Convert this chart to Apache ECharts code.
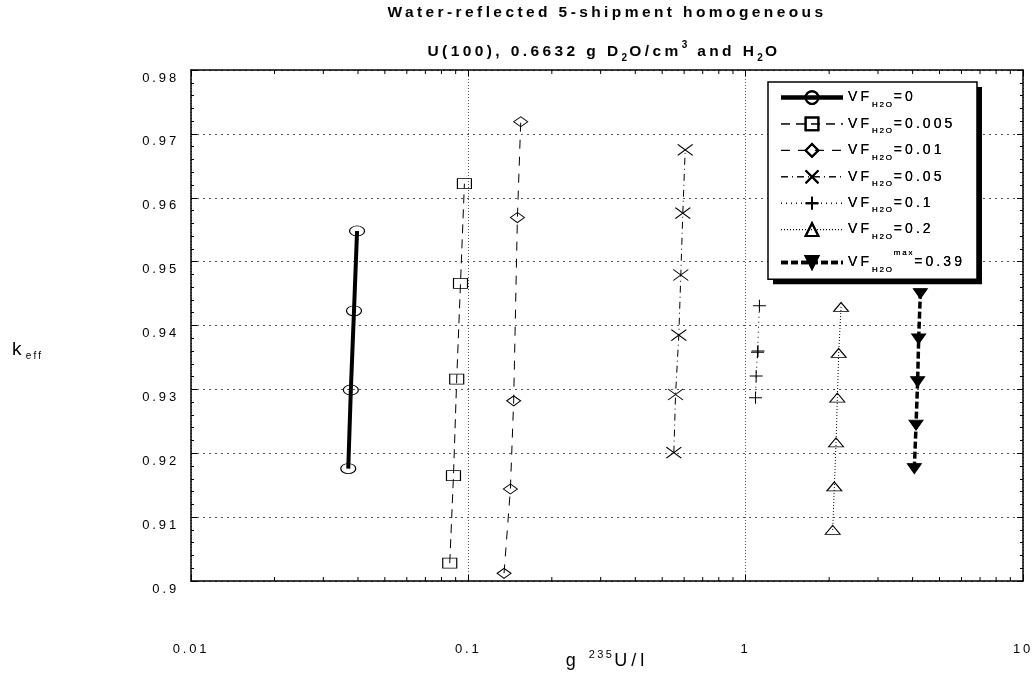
<!DOCTYPE html>
<html><head><meta charset="utf-8">
<script src="https://cdn.jsdelivr.net/npm/echarts@6/dist/echarts.min.js"></script>
<style>html,body{margin:0;padding:0;background:#fff}#chart{width:1034px;height:675px}</style>
</head><body><div id="chart"></div>
<script>
// Wide letter spacing, as in the reference (proportional to font size)
(function(){
  var proto = window.CanvasRenderingContext2D && CanvasRenderingContext2D.prototype;
  if (!proto) return;
  var d = Object.getOwnPropertyDescriptor(proto, 'font');
  if (d && d.set && ('letterSpacing' in proto)) {
    Object.defineProperty(proto, 'font', {
      configurable: true, enumerable: d.enumerable,
      get: function(){ return d.get.call(this); },
      set: function(v){ d.set.call(this, v); var m = /(\d+(?:\.\d+)?)px/.exec(v); if (m) { this.letterSpacing = (parseFloat(m[1]) * 0.22).toFixed(2) + 'px'; } }
    });
  }
})();

// ---------------- DATA ----------------
const vfValues = ['0', '0.005', '0.01', '0.05', '0.1', '0.2', '0.39'];

const xVF0 = [0.0369, 0.0377, 0.0387, 0.0397];
const yVF0 = [0.9176, 0.9299, 0.9423, 0.9548];

const xVF0005 = [0.0857, 0.0884, 0.0908, 0.0937, 0.0968];
const yVF0005 = [0.9028, 0.9165, 0.9316, 0.9466, 0.9622];

const xVF001 = [0.1345, 0.1418, 0.1457, 0.1503, 0.1545];
const yVF001 = [0.9012, 0.9144, 0.9282, 0.9569, 0.9719];

const xVF005 = [0.5508, 0.5587, 0.5741, 0.5836, 0.5934, 0.6053];
const yVF005 = [0.9201, 0.9292, 0.9385, 0.9479, 0.9576, 0.9675];

const xVF01 = [1.085, 1.091, 1.103, 1.108, 1.121];
const yVF01 = [0.9287, 0.9321, 0.9358, 0.9360, 0.9431];

const xVF02 = [2.060, 2.088, 2.118, 2.141, 2.165, 2.208];
const yVF02 = [0.9080, 0.9148, 0.9217, 0.9287, 0.9357, 0.9429];

const xVFmax = [4.057, 4.114, 4.169, 4.205, 4.264];
const yVFmax = [0.9176, 0.9244, 0.9312, 0.9379, 0.9450];

const xTickValues = [0.01, 0.1, 1, 10];
const xMinorTicks = [0.02,0.03,0.04,0.05,0.06,0.07,0.08,0.09,0.2,0.3,0.4,0.5,0.6,0.7,0.8,0.9,2,3,4,5,6,7,8,9];
const yMin = 0.9, yMax = 0.98, yStep = 0.01;

const titleLine1 = 'Water-reflected 5-shipment homogeneous';
const titleLine2 = 'U(100), 0.6632 g D{s|2}O/cm{p|3} and H{s|2}O';
const xName = 'g {p|235}U/l';
const yName = 'k{s|eff}';

// ---------------- CHART ----------------
const FF = '"Liberation Sans", Arial, sans-serif';
const seriesNames = vfValues.map((v, i) => i === 6 ? 'VF_H2O^max=' + v : 'VF_H2O=' + v);
const zip = (xs, ys) => xs.map((x, i) => [x, ys[i]]);
const hollow = 'rgba(0,0,0,0)';

function lineSeries(idx, xs, ys, opt) {
  return Object.assign({
    name: seriesNames[idx], type: 'line', data: zip(xs, ys),
    xAxisIndex: 0, yAxisIndex: 0, showAllSymbol: true, z: 3,
    itemStyle: { color: hollow, borderColor: '#000', borderWidth: 1 },
  }, opt);
}

const series = [
  lineSeries(0, xVF0, yVF0, { symbol: 'circle', symbolSize: [15, 10], lineStyle: { color: '#000', width: 4, type: 'solid' } }),
  lineSeries(1, xVF0005, yVF0005, { symbol: 'rect', symbolSize: [14, 10], lineStyle: { color: '#000', width: 1, type: [9, 6] } }),
  lineSeries(2, xVF001, yVF001, { symbol: 'diamond', symbolSize: [14, 10], lineStyle: { color: '#000', width: 1, type: [9, 8] } }),
  lineSeries(3, xVF005, yVF005, { symbol: 'path://M0,0L10,10M0,10L10,0', symbolSize: [15, 11], lineStyle: { color: '#000', width: 1, type: [7, 4, 1, 4] } }),
  lineSeries(4, xVF01, yVF01, { symbol: 'path://M5,0L5,10M0,5L10,5', symbolSize: [13, 12], lineStyle: { color: '#000', width: 1, type: [1, 4] } }),
  lineSeries(5, xVF02, yVF02, { symbol: 'triangle', symbolSize: [15, 9], lineStyle: { color: '#000', width: 1, type: [1, 2] } }),
  lineSeries(6, xVFmax, yVFmax, { symbol: 'triangle', symbolRotate: 180, symbolSize: [14, 10], itemStyle: { color: '#000', borderColor: '#000', borderWidth: 1 }, lineStyle: { color: '#000', width: 3.5, type: [7, 3] } }),
  {
    name: 'minorTicks', type: 'custom', xAxisIndex: 0, yAxisIndex: 0, silent: true, z: 5,
    data: xMinorTicks.map(v => [v, yMin]),
    renderItem: function (params, api) {
      const v = api.value(0);
      const pb = api.coord([v, yMin]);
      const pt = api.coord([v, yMax]);
      const st = { stroke: '#000', lineWidth: 1 };
      return { type: 'group', children: [
        { type: 'line', shape: { x1: pb[0], y1: pb[1], x2: pb[0], y2: pb[1] - 4 }, style: st },
        { type: 'line', shape: { x1: pt[0], y1: pt[1], x2: pt[0], y2: pt[1] + 4 }, style: st }
      ] };
    }
  }
];

const axisLineStyle = { show: true, lineStyle: { color: '#000', width: 1.5 } };

function legendCfg(withShadow) {
  const cfg = {
    data: seriesNames, orient: 'vertical', left: 768, top: 82,
    padding: [7, 12, 5, 11], itemGap: 6, itemWidth: 62, itemHeight: 16,
    selectedMode: false,
    lineStyle: { width: 'inherit' },
    textStyle: {
      color: '#000', fontFamily: FF, fontSize: 14,
      rich: {
        m: { fontSize: 14, fontFamily: FF, color: '#000' },
        s: { fontSize: 8, fontFamily: FF, color: '#000', padding: [14, 0, 0, 0] },
        p: { fontSize: 8, fontFamily: FF, color: '#000', padding: [0, 0, 20, 0] }
      }
    },
    formatter: function (name) {
      const i = seriesNames.indexOf(name);
      return i === 6 ? '{m|VF}{s|H2O}{p|max}{m|=' + vfValues[i] + '}' : '{m|VF}{s|H2O}{m|=' + vfValues[i] + '}';
    }
  };
  if (withShadow) {
    Object.assign(cfg, { z: 4, backgroundColor: '#fff', borderWidth: 0, shadowColor: '#000', shadowOffsetX: 5, shadowOffsetY: 5, shadowBlur: 0 });
  } else {
    Object.assign(cfg, { z: 5, backgroundColor: 'transparent', borderColor: '#000', borderWidth: 1.5 });
  }
  return cfg;
}

const option = {
  animation: false,
  backgroundColor: '#fff',
  textStyle: { fontFamily: FF, color: '#000' },
  grid: { left: 191, right: 11, top: 70, bottom: 94, containLabel: false, outerBoundsMode: 'none' },
  xAxis: [
    {
      type: 'log', logBase: 10, min: xTickValues[0], max: xTickValues[xTickValues.length - 1], position: 'bottom',
      axisLine: axisLineStyle,
      axisTick: { show: true, inside: true, length: 6, lineStyle: { color: '#000' } },
      axisLabel: { show: true, margin: 60, fontSize: 13, color: '#000', fontFamily: FF },
      splitLine: { show: true, lineStyle: { color: '#555', width: 1, type: [1, 2] } },
      name: xName, nameLocation: 'middle', nameGap: 67, nameMoveOverlap: false,
      nameTextStyle: { fontSize: 18, fontFamily: FF, color: '#000', rich: { p: { fontSize: 11, fontFamily: FF, color: '#000', padding: [0, 0, 12, 0] } } }
    },
    {
      type: 'log', logBase: 10, min: xTickValues[0], max: xTickValues[xTickValues.length - 1], position: 'top',
      axisLine: axisLineStyle,
      axisTick: { show: true, inside: true, length: 6, lineStyle: { color: '#000' } },
      axisLabel: { show: false }, splitLine: { show: false }
    }
  ],
  yAxis: [
    {
      type: 'value', min: yMin, max: yMax, interval: yStep, position: 'left',
      axisLine: axisLineStyle,
      axisTick: { show: true, inside: true, length: 6, lineStyle: { color: '#000' } },
      minorTick: { show: true, splitNumber: 5, length: 3, lineStyle: { color: '#000' } },
      axisLabel: { show: true, margin: 12, fontSize: 13, color: '#000', fontFamily: FF, verticalAlign: 'top' },
      splitLine: { show: true, lineStyle: { color: '#555', width: 1, type: [2, 4] } }
    },
    {
      type: 'value', min: yMin, max: yMax, interval: yStep, position: 'right',
      axisLine: axisLineStyle,
      axisTick: { show: true, inside: true, length: 6, lineStyle: { color: '#000' } },
      minorTick: { show: true, splitNumber: 5, length: 3, lineStyle: { color: '#000' } },
      axisLabel: { show: false }, splitLine: { show: false }
    }
  ],
  legend: [legendCfg(true), legendCfg(false)],
  graphic: [
    { type: 'text', x: 607, y: 13, z: 10, style: { text: titleLine1, fontSize: 15.5, fontWeight: 'bold', fontFamily: FF, fill: '#000', align: 'center', verticalAlign: 'middle' } },
    { type: 'text', x: 604, y: 52, z: 10, style: {
      text: titleLine2, fontSize: 15.5, fontWeight: 'bold', fontFamily: FF, fill: '#000', align: 'center', verticalAlign: 'middle',
      rich: {
        s: { fontSize: 10, fontWeight: 'bold', fontFamily: FF, fill: '#000', padding: [12, 0, 0, 0] },
        p: { fontSize: 10, fontWeight: 'bold', fontFamily: FF, fill: '#000', padding: [0, 0, 14, 0] }
      } } },
    { type: 'text', left: 12, top: 338, z: 10, style: {
      text: yName, fontSize: 19, fontFamily: FF, fill: '#000',
      rich: { s: { fontSize: 10, fontFamily: FF, fill: '#000', padding: [13, 0, 0, 0] } } } }
  ],
  series: series
};

const chart = echarts.init(document.getElementById('chart'), null, { renderer: 'canvas' });
chart.setOption(option);
</script>
</body></html>
